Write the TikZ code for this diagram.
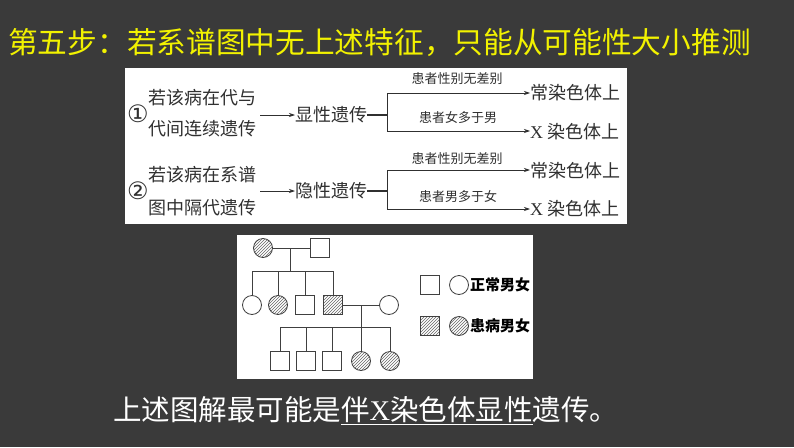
\documentclass[tikz,border=0pt]{standalone}
\usepackage{fontspec}
\setmainfont{Noto Sans CJK SC}
\newfontfamily\latinx{Liberation Serif}
\newfontfamily\circfont{DejaVu Sans}
\usetikzlibrary{patterns,arrows.meta}
\definecolor{bgdark}{HTML}{3A3A3A}
\definecolor{titleyellow}{HTML}{F2F200}
\definecolor{inkgray}{HTML}{303030}
\definecolor{pedline}{HTML}{404040}
\tikzset{
  txt/.style={inner sep=0pt, anchor=west, text=inkgray, font=\fontsize{18}{18}\selectfont},
  lbl/.style={inner sep=0pt, text=inkgray, font=\fontsize{13}{13}\selectfont},
  circnum/.style={inner sep=0pt, text=inkgray, font=\circfont\fontsize{24}{24}\selectfont},
  conn/.style={draw=inkgray, line width=0.7pt},
  arr/.style={conn, -{Stealth[length=6pt,width=4pt]}},
  male/.style={draw=pedline, line width=0.8pt, fill=white, minimum size=19pt, inner sep=0pt, rectangle},
  female/.style={draw=pedline, line width=0.8pt, fill=white, minimum size=19pt, inner sep=0pt, circle},
  ill/.style={pattern=north east lines, pattern color=pedline!80},
  pline/.style={draw=pedline, line width=0.8pt},
  legtxt/.style={inner sep=0pt, anchor=west, text=black, font=\fontsize{15}{15}\selectfont\bfseries},
}
\begin{document}
\begin{tikzpicture}[x=1pt, y=-1pt]
\fill[bgdark] (0,0) rectangle (794,447);
\useasboundingbox (0,0) rectangle (794,447);

% title
\node[inner sep=0pt, anchor=west, text=titleyellow, font=\fontsize{29.7}{29.7}\selectfont] (title) at (8,43) {第五步：若系谱图中无上述特征，只能从可能性大小推测};

% box 1
\fill[white] (125,68) rectangle (627,224);

% block 1
\node[circnum] (n1) at (138,114) {①};
\node[txt] (a1) at (148,98) {若该病在代与};
\node[txt] (a2) at (148,129) {代间连续遗传};
\coordinate (a1s) at (260,115);
\node[txt] (d1) at (295,115) {显性遗传};
\draw[arr] (a1s) -- (d1.west);
\coordinate (v1) at (387,115);
\coordinate (v1t) at (387,93);
\coordinate (v1b) at (387,131);
\draw[conn, line width=1.2pt] (d1.east) -- (v1);
\draw[conn] (v1t) -- (v1b);
\node[txt] (r1) at (530,93) {常染色体上};
\node[txt] (r2) at (530,132) {{\latinx X}\hspace{4pt}染色体上};
\draw[arr] (v1t) -- (r1.west |- v1t);
\draw[arr] (v1b) -- (r2.west |- v1b);
\node[lbl] (l1) at (457,79) {患者性别无差别};
\node[lbl] (l2) at (458,118) {患者女多于男};

% block 2
\node[circnum] (n2) at (138,191) {②};
\node[txt] (b1) at (148,175) {若该病在系谱};
\node[txt] (b2) at (148,208) {图中隔代遗传};
\coordinate (b1s) at (260,191);
\node[txt] (d2) at (295,191) {隐性遗传};
\draw[arr] (b1s) -- (d2.west);
\coordinate (v2) at (387,191);
\coordinate (v2t) at (387,170);
\coordinate (v2b) at (387,209);
\draw[conn, line width=1.2pt] (d2.east) -- (v2);
\draw[conn] (v2t) -- (v2b);
\node[txt] (r3) at (530,171) {常染色体上};
\node[txt] (r4) at (530,209) {{\latinx X}\hspace{4pt}染色体上};
\draw[arr] (v2t) -- (r3.west |- v2t);
\draw[arr] (v2b) -- (r4.west |- v2b);
\node[lbl] (l3) at (457,159) {患者性别无差别};
\node[lbl] (l4) at (458,197) {患者男多于女};

% box 2 (pedigree)
\fill[white] (237,235) rectangle (533,379);

% generation I
\node[female, ill] (g1f) at (263,248) {};
\node[male] (g1m) at (320,248) {};
\coordinate (j1) at (290,248);
\coordinate (j1d) at (290,271);
\draw[pline] (g1f.east) -- (g1m.west);
\draw[pline] (j1) -- (j1d);

% generation II
\node[female] (c1) at (252,305) {};
\node[female, ill] (c2) at (278,305) {};
\node[male] (c3) at (305,305) {};
\node[male, ill] (c4) at (333,305) {};
\node[female] (w1) at (389,305) {};
\draw[pline] (c1.north |- j1d) -- (c4.north |- j1d);
\foreach \c in {c1,c2,c3,c4} \draw[pline] (\c.north |- j1d) -- (\c.north);
\coordinate (j2) at (361,305);
\coordinate (j2d) at (361,327);
\draw[pline] (c4.east) -- (w1.west);
\draw[pline] (j2) -- (j2d);

% generation III
\node[male] (s1) at (280,361) {};
\node[male] (s2) at (306,361) {};
\node[male] (s3) at (332,361) {};
\node[female, ill] (s4) at (361,361) {};
\node[female, ill] (s5) at (390,361) {};
\draw[pline] (s1.north |- j2d) -- (s5.north |- j2d);
\foreach \c in {s1,s2,s3,s4,s5} \draw[pline] (\c.north |- j2d) -- (\c.north);

% legend
\node[male] (lm1) at (430,285) {};
\node[female] (lf1) at (459,285) {};
\node[legtxt] (lt1) at (470,285) {正常男女};
\node[male, ill] (lm2) at (430,326) {};
\node[female, ill] (lf2) at (459,326) {};
\node[legtxt] (lt2) at (470,326) {患病男女};

% conclusion
\node[inner sep=0pt, anchor=west, text=white, font=\fontsize{28.5}{28.5}\selectfont] (concl) at (113,411) {上述图解最可能是\underline{伴{\latinx X}染色体显性}遗传。};
\end{tikzpicture}
\end{document}
